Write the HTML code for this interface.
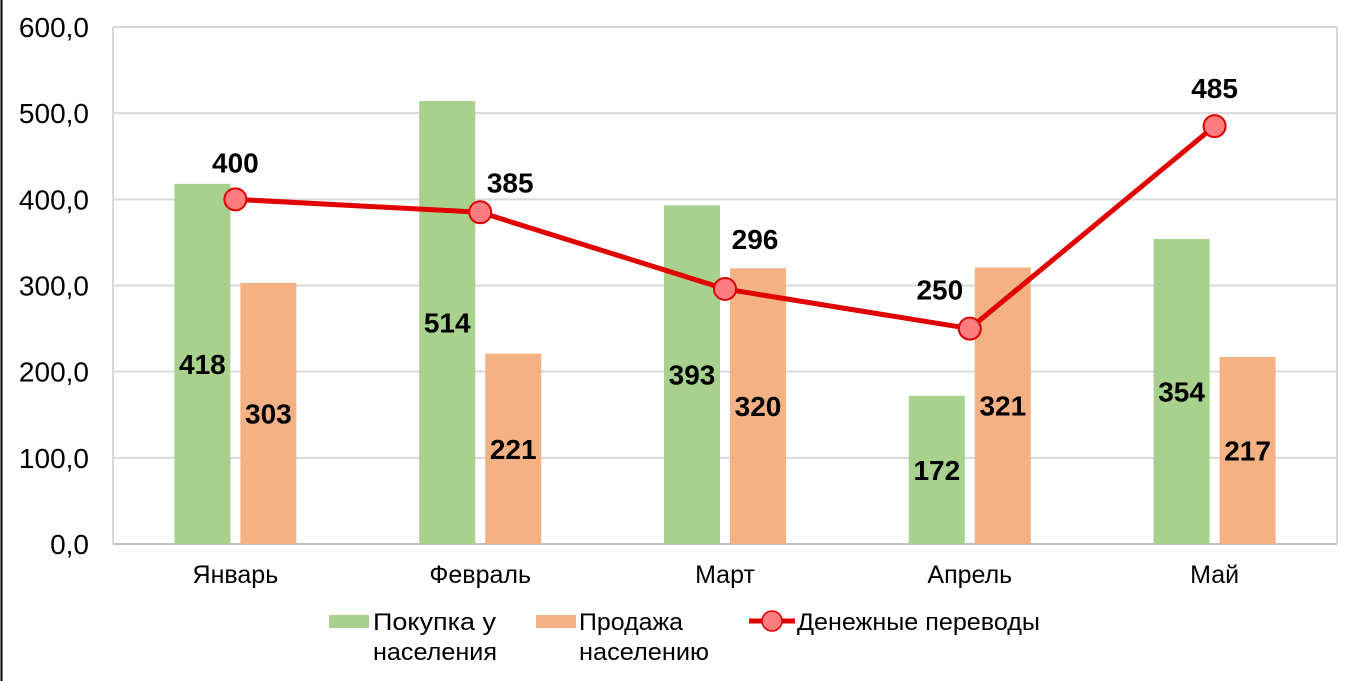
<!DOCTYPE html>
<html><head><meta charset="utf-8"><style>
body{margin:0;background:#fff;}
svg{display:block;font-family:"Liberation Sans",Arial,sans-serif;}
</style></head><body>
<svg id="chart" width="1359" height="681" viewBox="0 0 1359 681">
<rect x="0" y="0" width="1359" height="681" fill="#fff"/>
<line x1="1.5" y1="0" x2="1.5" y2="681" stroke="#000" stroke-width="2"/>
<g id="grid"></g><g id="bars"></g><g id="line"></g><g id="labels"></g>
<g>
 <rect x="329" y="615" width="40" height="13" fill="#a9d18e"/>
 <text x="373" y="630" font-size="24" textLength="123" lengthAdjust="spacingAndGlyphs">Покупка у</text>
 <text x="373" y="660" font-size="24" textLength="124" lengthAdjust="spacingAndGlyphs">населения</text>
 <rect x="536" y="615" width="40" height="13" fill="#f4b183"/>
 <text x="579" y="630" font-size="24" textLength="104" lengthAdjust="spacingAndGlyphs">Продажа</text>
 <text x="579" y="660" font-size="24" textLength="130" lengthAdjust="spacingAndGlyphs">населению</text>
 <line x1="749" y1="621" x2="795" y2="621" stroke="#e00000" stroke-width="5"/>
 <circle cx="772" cy="621" r="10" fill="#ff7c80" stroke="#e00000" stroke-width="1.5"/>
 <text x="797" y="630" font-size="24" textLength="243" lengthAdjust="spacingAndGlyphs">Денежные переводы</text>
</g>
</svg>
<script>
const categories=["Январь","Февраль","Март","Апрель","Май"];
const buyValues=[418,514,393,172,354];
const sellValues=[303,221,320,321,217];
const transferValues=[400,385,296,250,485];
const yTicks=[0,100,200,300,400,500,600];
const yTickLabels=["0,0","100,0","200,0","300,0","400,0","500,0","600,0"];
const NS="http://www.w3.org/2000/svg";
const L=113,R=1337,T=27,B=544,yMax=600;
const band=(R-L)/categories.length;
const y=v=>B-(v/yMax)*(B-T);
const xc=i=>L+band*(i+0.5);
function mk(tag,attrs,parent,txt){const e=document.createElementNS(NS,tag);for(const k in attrs)e.setAttribute(k,attrs[k]);if(txt!==undefined)e.textContent=txt;document.getElementById(parent).appendChild(e);return e;}
yTicks.forEach((t,i)=>{
 const g=mk('line',{x1:L,x2:R,y1:y(t),y2:y(t),stroke:t===0?'#bfbfbf':'#d9d9d9','stroke-width':2},'grid');
 
 
 const lb=mk('text',{x:89,y:y(t)+10,'text-anchor':'end','font-size':28},'grid',yTickLabels[i]);
 
 
});
const gl=mk('line',{x1:L,x2:L,y1:T,y2:B,stroke:'#d9d9d9','stroke-width':2},'grid');


const gr=mk('line',{x1:R,x2:R,y1:T,y2:B,stroke:'#d9d9d9','stroke-width':2},'grid');


const bw=56,gap=10;
categories.forEach((c,i)=>{
 const cx=xc(i);
 const b1=mk('rect',{x:cx-gap/2-bw,y:y(buyValues[i]),width:bw,height:B-y(buyValues[i]),fill:'#a9d18e'},'bars');
 
 
 const b2=mk('rect',{x:cx+gap/2,y:y(sellValues[i]),width:bw,height:B-y(sellValues[i]),fill:'#f4b183'},'bars');
 
 
 const t1=mk('text',{x:cx-gap/2-bw/2,y:(y(buyValues[i])+B)/2+10,'text-anchor':'middle','font-size':28,'font-weight':'bold'},'labels',buyValues[i]);
 
 
 const t2=mk('text',{x:cx+gap/2+bw/2,y:(y(sellValues[i])+B)/2+10,'text-anchor':'middle','font-size':28,'font-weight':'bold'},'labels',sellValues[i]);
 
 
 const cl=mk('text',{x:cx,y:583,'text-anchor':'middle','font-size':25},'labels',c);
 
 
});
const pts=transferValues.map((v,i)=>xc(i)+','+y(v)).join(' ');
const pl=mk('polyline',{points:pts,fill:'none',stroke:'#e00000','stroke-width':5,'stroke-linejoin':'round'},'line');


const offs=[[0,-27],[30,-20],[30,-40],[-30,-29],[0,-28]];
transferValues.forEach((v,i)=>{
 const p=mk('circle',{cx:xc(i),cy:y(v),r:11,fill:'#ff7c80',stroke:'#e00000','stroke-width':2},'line');
 
 
 const t=mk('text',{x:xc(i)+offs[i][0],y:y(v)+offs[i][1],'text-anchor':'middle','font-size':28,'font-weight':'bold'},'labels',v);
 
 
});
</script>
</body></html>
